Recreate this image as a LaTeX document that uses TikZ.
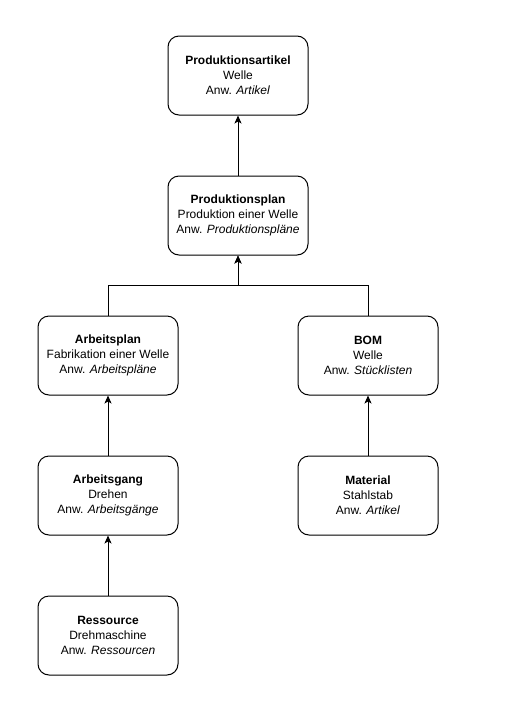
\documentclass[tikz,border=0pt]{standalone}
\usepackage{fontspec}
\setmainfont{Liberation Sans}
\usetikzlibrary{arrows.meta,calc}
\tikzset{
  box/.style={draw=black, line width=1pt, rounded corners=11pt, minimum width=140pt, minimum height=79pt,
    align=center, font=\fontsize{12}{15}\selectfont, inner sep=0pt, fill=white},
  conn/.style={line width=1pt, -{Stealth[length=8pt,width=7pt,inset=2pt]}}
}
\begin{document}
\begin{tikzpicture}[x=1pt,y=-1pt]
\useasboundingbox (0,0) rectangle (505,702);
\node[box] (pa) at (238,75.5) {\textbf{Produktionsartikel}\\Welle\\Anw. \textit{Artikel}};
\node[box] (pp) at (238,215.5) {\textbf{Produktionsplan}\\Produktion einer Welle\\Anw. \textit{Produktionspläne}};
\node[box] (ap) at (108,355.5) {\textbf{Arbeitsplan}\\Fabrikation einer Welle\\Anw. \textit{Arbeitspläne}};
\node[box] (bom) at (368,355.5) {\textbf{BOM}\\Welle\\Anw. \textit{Stücklisten}};
\node[box] (ag) at (108,495.5) {\textbf{Arbeitsgang}\\Drehen\\Anw. \textit{Arbeitsgänge}};
\node[box] (mat) at (368,495.5) {\textbf{Material}\\Stahlstab\\Anw. \textit{Artikel}};
\node[box] (res) at (108,635.5) {\textbf{Ressource}\\Drehmaschine\\Anw. \textit{Ressourcen}};
\draw[conn] (pp.north) -- (pa.south);
\draw[conn] (ap.north) |- ($(ap.north)!0.5!(pp.south)$) -| (pp.south);
\draw[conn] (bom.north) |- ($(bom.north)!0.5!(pp.south)$) -| (pp.south);
\draw[conn] (ag.north) -- (ap.south);
\draw[conn] (mat.north) -- (bom.south);
\draw[conn] (res.north) -- (ag.south);
\end{tikzpicture}
\end{document}
